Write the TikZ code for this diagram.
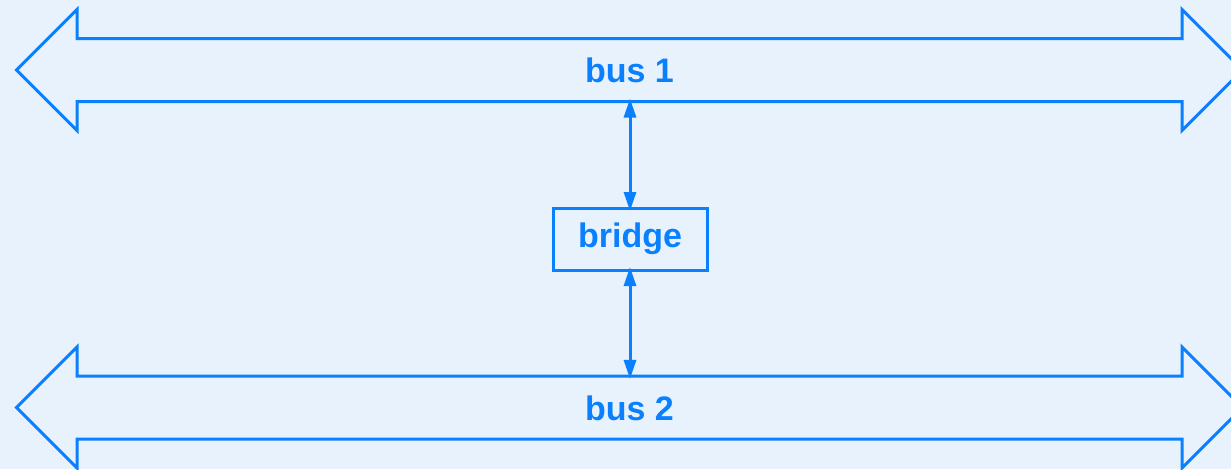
\documentclass[tikz,border=0pt]{standalone}
\usepackage{fontspec}
\setmainfont{Liberation Sans}
\usetikzlibrary{arrows.meta,positioning,shapes.arrows}

\definecolor{busline}{RGB}{10,128,255}
\definecolor{bgfill}{RGB}{232,242,253}

\begin{document}
\begin{tikzpicture}[
    x=1pt, y=-1pt,
    >={Triangle[length=19pt,width=12pt]},
    font=\fontsize{34}{40}\selectfont\bfseries,
    bus/.style={double arrow,draw=busline,line width=3pt,text=busline,outer sep=0pt,
        minimum height=1226pt,minimum width=118pt,double arrow head extend=29pt,
        text height=25pt,text depth=0pt,inner xsep=0pt,inner ysep=17.5pt},
    box/.style={draw=busline,line width=3pt,text=busline,outer sep=0pt,
        minimum width=154pt,minimum height=62pt,inner sep=0pt},
    link/.style={<->,draw=busline,line width=3pt,shorten <=-3pt,shorten >=-3pt},
]
\fill[bgfill] (0,0) rectangle (1231,469);
\useasboundingbox (0,0) rectangle (1231,469);

% the two buses
\node[bus] (bus1) at (629.5,70) {bus 1};
\node[bus] (bus2) at (629.5,407.5) {bus 2};

% bridge between them
\node[box] (bridge) at (630,239) {bridge};

\draw[link] (bridge.north) -- (bridge.north |- bus1.south);
\draw[link] (bridge.south) -- (bridge.south |- bus2.north);

\end{tikzpicture}
\end{document}
